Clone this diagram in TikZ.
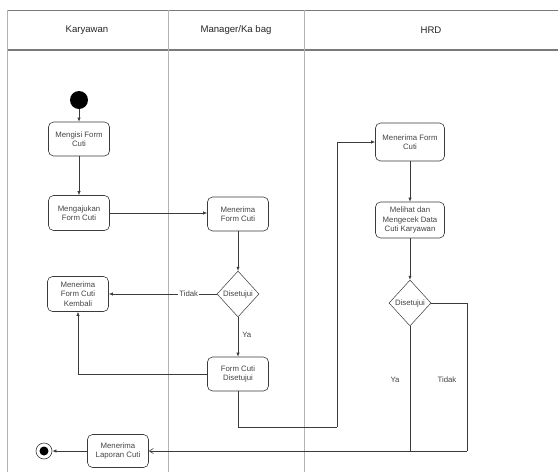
\documentclass[tikz,border=0pt]{standalone}
\usepackage{fontspec}
\setmainfont{Liberation Sans}
\usetikzlibrary{arrows.meta,shapes.geometric,positioning}
\definecolor{lanec}{HTML}{B4B4B4}
\definecolor{hdrc}{HTML}{7A7A7A}
\definecolor{linec}{HTML}{3A3A3A}
\definecolor{txtc}{HTML}{454545}
\tikzset{
  act/.style={draw=linec, rounded corners=5pt, minimum width=61pt, minimum height=34pt,
    align=center, inner sep=1pt, font=\fontsize{7.8}{9.4}\selectfont, text=txtc, line width=0.6pt},
  dec/.style={draw=linec, diamond, minimum width=42pt, minimum height=46pt, inner sep=0pt, line width=0.5pt},
  flow/.style={draw=linec, line width=0.6pt, -{Latex[length=4pt,width=3.2pt]}},
  plain/.style={draw=linec, line width=0.6pt},
  lbl/.style={font=\fontsize{7.8}{9}\selectfont, text=txtc, inner sep=1pt},
  hdr/.style={font=\fontsize{9.6}{11}\selectfont, text=black!85}
}
\begin{document}
\begin{tikzpicture}[x=1pt,y=-1pt]
\useasboundingbox (0,0) rectangle (558,472);
\fill[white] (0,0) rectangle (558,472);
% swimlanes
\draw[hdrc, line width=0.8pt] (7,10) -- (558,10);
\draw[hdrc, line width=1.2pt] (7,50) -- (558,50);
\draw[lanec, line width=0.6pt] (7,10) -- (7,472);
\draw[lanec, line width=0.6pt] (168,10) -- (168,472);
\draw[lanec, line width=0.6pt] (304,10) -- (304,472);
\node[hdr] (hk) at (87,30) {Karyawan};
\node[hdr] (hm) at (236,30) {Manager/Ka bag};
\node[hdr] (hh) at (431,30) {HRD};
% nodes
\node[circle, fill=black, minimum size=18pt, inner sep=0pt] (start) at (79,100) {};
\node[act] (a1) at (79,139) {Mengisi Form\\Cuti};
\node[act, minimum height=35pt] (a2) at (79,213) {Mengajukan\\Form Cuti};
\node[act] (m1) at (238,214) {Menerima\\Form Cuti};
\node[dec, label={[lbl]center:Disetujui}] (d1) at (238,294) {};
\node[act, minimum height=35pt] (k) at (78,294) {Menerima\\Form Cuti\\Kembali};
\node[act] (m2) at (238,374) {Form Cuti\\Disetujui};
\node[act, minimum width=69pt, minimum height=38pt] (h1) at (410,142) {Menerima Form\\Cuti};
\node[act, minimum width=69pt, minimum height=36pt] (h2) at (410,220) {Melihat dan\\Mengecek Data\\Cuti Karyawan};
\node[dec, label={[lbl]center:Disetujui}] (d2) at (410,303) {};
\node[act, minimum height=33pt] (l) at (118,451) {Menerima\\Laporan Cuti};
\node[circle, draw=linec, line width=0.6pt, minimum size=16pt, inner sep=0pt] (end) at (44,451) {};
\node[circle, fill=black, minimum size=9pt, inner sep=0pt] (endin) at (44,451) {};
\coordinate (c1) at (337,427);
\coordinate (c2) at (467,451);
% connectors
\draw[flow] (start) -- (a1);
\draw[flow] (a1) -- (a2);
\draw[flow] (a2.east) -- (m1.west |- a2.east);
\draw[flow] (m1) -- (d1);
\draw[flow] (d1.west) -- node[lbl, fill=white, pos=0.26] {Tidak} (k.east |- d1.west);
\draw[flow] (d1) -- node[lbl, right=3pt, pos=0.45] {Ya} (m2);
\draw[flow] (m2.west) -| (k.south);
\draw[plain] (m2.south) |- (c1);
\draw[flow] (c1) |- (h1.west);
\draw[flow] (h1) -- (h2);
\draw[flow] (h2) -- (d2);
\draw[plain] (d2.east) -| (c2);
\draw[flow, -{Straight Barb[length=4pt,width=5pt]}] (c2) -- (l.east);
\draw[plain] (d2.south) -- (d2.south |- c2);
\node[lbl] (ya2) at (395,380) {Ya};
\node[lbl] (td2) at (447,380) {Tidak};
\draw[flow] (l.west) -- (end.east);
\end{tikzpicture}
\end{document}
